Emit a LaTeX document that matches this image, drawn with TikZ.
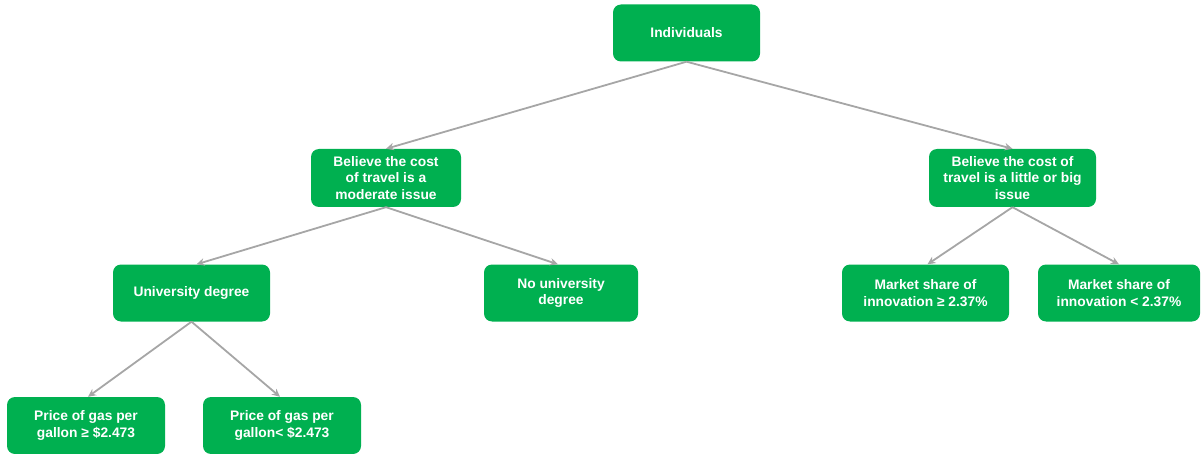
\documentclass[tikz,border=0pt]{standalone}
\usepackage{fontspec}
\setmainfont{Liberation Sans}
\usetikzlibrary{arrows.meta}
\definecolor{boxgreen}{HTML}{00B050}
\definecolor{linkgray}{HTML}{A6A6A6}
\begin{document}
\begin{tikzpicture}[x=1pt,y=-1pt,
  box/.style={fill=boxgreen, rounded corners=8pt, text=white, font=\fontsize{13.8}{16.5}\selectfont\bfseries,
    align=center, inner sep=0pt, minimum height=57pt},
  link/.style={draw=linkgray, line width=1.8pt, -{Stealth[length=8pt,width=7.5pt]}}]
\useasboundingbox (0,0) rectangle (1201,454);
% top level
\node[box, minimum width=147pt] (ind) at (686.5,33) {Individuals};
% second level
\node[box, minimum width=150pt, minimum height=58pt] (mod) at (386,178) {Believe the cost\\of travel is a\\moderate issue};
\node[box, minimum width=167pt, minimum height=58pt] (big) at (1012.5,178) {Believe the cost of\\travel is a little or big\\issue};
% third level
\node[box, minimum width=157pt] (uni) at (191.5,293) {University degree};
\node[box, minimum width=154pt] (nouni) at (561,293) {No university\\degree};
\node[box, minimum width=167pt] (msge) at (925.5,293) {Market share of\\innovation ≥ 2.37\%};
\node[box, minimum width=162pt] (mslt) at (1119,293) {Market share of\\innovation < 2.37\%};
% fourth level
\node[box, minimum width=158pt] (gasge) at (86,425.5) {Price of gas per\\gallon ≥ \$2.473};
\node[box, minimum width=158pt] (gaslt) at (282,425.5) {Price of gas per\\gallon< \$2.473};
% connectors
\draw[link] (ind.south) -- (mod.north);
\draw[link] (ind.south) -- (big.north);
\draw[link] (mod.south) -- ([xshift=5pt]uni.north);
\draw[link] (mod.south) -- ([xshift=-3pt]nouni.north);
\draw[link] (big.south) -- ([xshift=2pt]msge.north);
\draw[link] (big.south) -- (mslt.north);
\draw[link] (uni.south) -- ([xshift=2pt]gasge.north);
\draw[link] (uni.south) -- ([xshift=-2pt]gaslt.north);
\end{tikzpicture}
\end{document}
